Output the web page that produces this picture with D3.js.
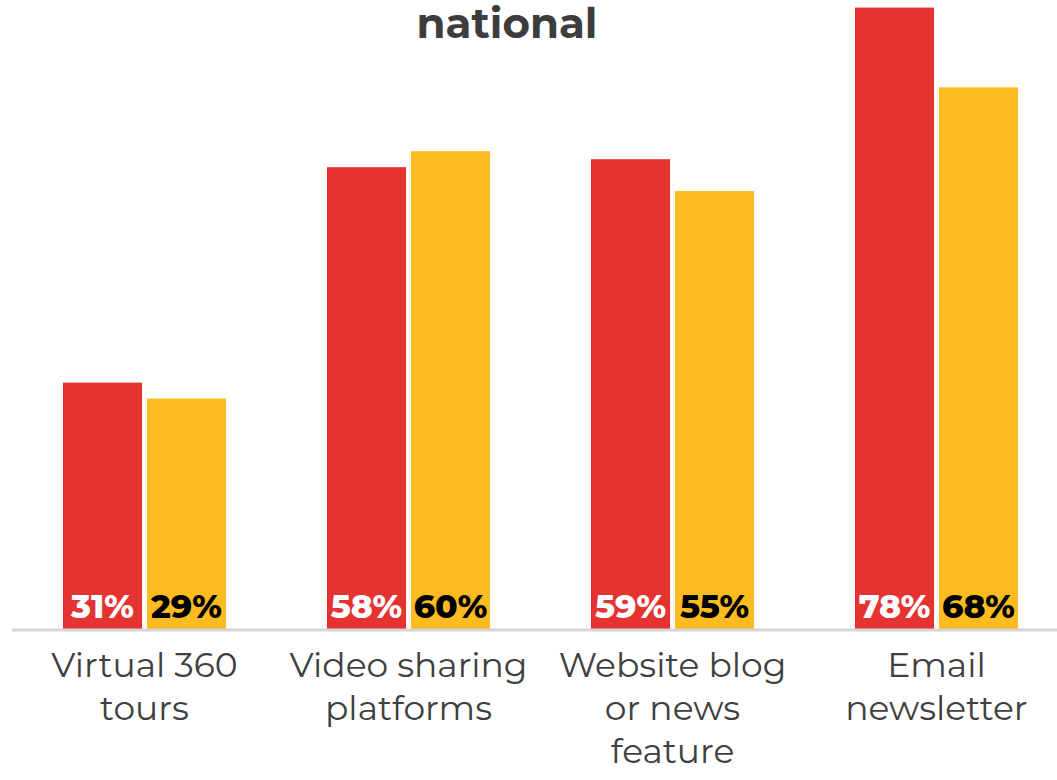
<!DOCTYPE html>
<html><head><meta charset="utf-8">
<script src="https://cdn.jsdelivr.net/npm/d3@7"></script>
<style>body{margin:0;background:#fff}svg{display:block}</style>
</head><body>
<svg id="c" width="1057" height="780"></svg>
<script>
const title = "national";
const categories = [["Virtual 360","tours"],["Video sharing","platforms"],["Website blog","or news","feature"],["Email","newsletter"]];
const seriesNames = ["A","B"];
const seriesA = [31, 58, 59, 78];
const seriesB = [29, 60, 55, 68];
const colors = ["#e53331", "#fbbb21"];
const labelColors = ["#ffffff", "#000000"];

const svg = d3.select("#c");
const baseY = 630;
const keys = categories.map((c,i)=>i);
const x = d3.scaleBand().domain(keys).range([12.5, 1068.5]).paddingInner(0).paddingOuter(0);
const x1 = d3.scaleBand().domain(seriesNames).range([0, x.bandwidth()]).paddingInner(0.0595).paddingOuter(0.601);
const y = d3.scaleLinear().domain([0, 100]).range([baseY, baseY - 798]);

const data = keys.map(i => ({i, vals:[seriesA[i], seriesB[i]]}));

const g = svg.append("g");
const grp = g.selectAll("g.grp").data(data).join("g").attr("transform", d=>`translate(${x(d.i)},0)`);
grp.selectAll("rect").data(d=>d.vals.map((v,k)=>({v,k}))).join("rect")
  .attr("x", d=>x1(seriesNames[d.k])).attr("width", x1.bandwidth())
  .attr("y", d=>y(d.v)).attr("height", d=>y(0)-y(d.v)).attr("fill", d=>colors[d.k]);
grp.selectAll("text.val").data(d=>d.vals.map((v,k)=>({v,k}))).join("text")
  .attr("class","val")
  .attr("x", d=>x1(seriesNames[d.k]) + x1.bandwidth()/2).attr("y", 618)
  .attr("text-anchor","middle").attr("font-family","Montserrat, 'DejaVu Sans', sans-serif")
  .attr("font-weight","800").attr("font-size",33).attr("fill", d=>labelColors[d.k])
  .text(d=>d.v+"%");

// axis
const axis = d3.axisBottom(x).tickSize(0).tickFormat("");
const ax = svg.append("g").attr("transform",`translate(0,${baseY})`).call(axis);
ax.select(".domain").attr("stroke","#d6d6d6").attr("stroke-width",3).attr("d","M12,0H1057");

// category labels
grp.each(function(d){
  const t = d3.select(this).append("text").attr("text-anchor","middle")
    .attr("font-family","Montserrat, 'DejaVu Sans', sans-serif").attr("font-size",34.5)
    .attr("fill","#404040").attr("font-weight","400");
  categories[d.i].forEach((line,j)=>{
    t.append("tspan").attr("x", x.bandwidth()/2).attr("y", 677 + j*43).text(line);
  });
});

svg.append("text").attr("x", 507).attr("y", 38).attr("text-anchor","middle")
  .attr("font-family","Montserrat, 'DejaVu Sans', sans-serif").attr("font-weight","bold")
  .attr("font-size",42).attr("fill","#3d3d3d").text(title);
</script>
</body></html>
